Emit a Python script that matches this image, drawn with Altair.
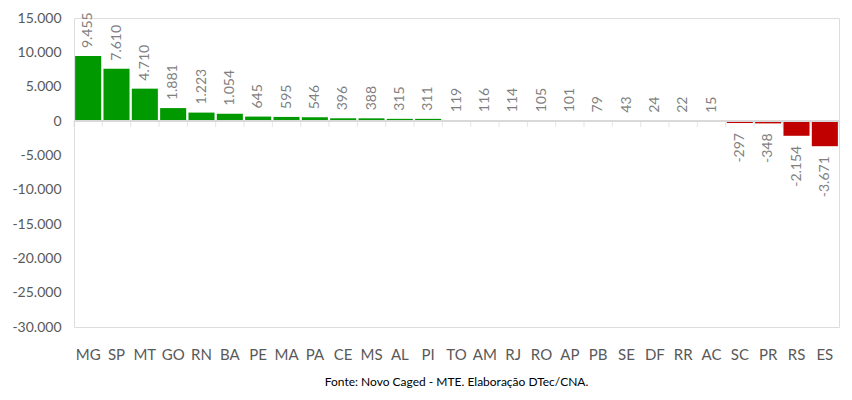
import altair as alt
import pandas as pd

states = ["MG", "SP", "MT", "GO", "RN", "BA", "PE", "MA", "PA", "CE", "MS", "AL", "PI",
          "TO", "AM", "RJ", "RO", "AP", "PB", "SE", "DF", "RR", "AC", "SC", "PR", "RS", "ES"]
values = [9455, 7610, 4710, 1881, 1223, 1054, 645, 595, 546, 396, 388, 315, 311,
          119, 116, 114, 105, 101, 79, 43, 24, 22, 15, -297, -348, -2154, -3671]
y_ticks = [-30000, -25000, -20000, -15000, -10000, -5000, 0, 5000, 10000, 15000]
source_text = "Fonte: Novo Caged - MTE. Elaboração DTec/CNA."

df = pd.DataFrame({
    "state": states,
    "value": values,
    "label": [f"{v:,}".replace(",", ".") for v in values],
})

FONT = "Lato"
xscale = alt.Scale(domain=states, paddingInner=0, paddingOuter=0)
yscale = alt.Scale(domain=[-30000, 15000], nice=False, zero=False)

x_axis = alt.Axis(title=None, labelAngle=0, domain=False, ticks=False,
                  labelPadding=20, labelFont=FONT, labelFontSize=15,
                  labelColor="#595959")
y_axis = alt.Axis(title=None, values=y_ticks, grid=False, domain=False, ticks=False,
                  labelPadding=13, labelFont=FONT, labelFontSize=14,
                  labelColor="#595959", labelOverlap=False, labelBound=False,
                  labelExpr="replace(replace(format(datum.value, ',d'), ',', '.'), '\u2212', '-')")

x_enc = alt.X("state:N", sort=states, scale=xscale, axis=x_axis)
y_enc = alt.Y("value:Q", scale=yscale, axis=y_axis)
y_zero = alt.YDatum(0, scale=yscale, axis=y_axis)

base = alt.Chart(df)

bars = base.mark_bar(width=alt.RelativeBandSize(0.92)).encode(
    x=x_enc,
    y=y_enc,
    color=alt.condition(alt.datum.value > 0, alt.value("#009900"), alt.value("#C00000")),
)

zero = base.mark_rule(color="#D9D9D9", strokeWidth=1.5).encode(y=y_zero)

ticks_left = base.mark_tick(orient="vertical", size=6, thickness=1, color="#D9D9D9", yOffset=3).encode(
    x=alt.X("state:N", sort=states, scale=xscale, axis=x_axis, bandPosition=0),
    y=y_zero,
)
ticks_right = base.transform_filter(alt.datum.state == states[-1]).mark_tick(
    orient="vertical", size=6, thickness=1, color="#D9D9D9", yOffset=3).encode(
    x=alt.X("state:N", sort=states, scale=xscale, axis=x_axis, bandPosition=1),
    y=y_zero,
)

pos_labels = base.transform_filter(alt.datum.value > 0).mark_text(
    angle=270, align="left", baseline="middle", dx=8, font=FONT, fontSize=14, color="#7F7F7F"
).encode(x=x_enc, y=y_enc, text="label:N")

neg_labels = base.transform_filter(alt.datum.value < 0).mark_text(
    angle=270, align="right", baseline="middle", dx=-10, font=FONT, fontSize=14, color="#7F7F7F"
).encode(x=x_enc, y=y_enc, text="label:N")

chart = alt.layer(bars, zero, ticks_left, ticks_right, pos_labels, neg_labels).properties(
    width=765,
    height=309,
    autosize=alt.AutoSizeParams(type="none"),
    padding={"left": 66, "top": 10, "right": 5, "bottom": 65},
    title=alt.TitleParams(text=source_text, orient="bottom", anchor="middle",
                          font=FONT, fontSize=12, fontWeight="normal", color="#000000",
                          offset=15),
).configure_view(stroke=None).configure(background="white")

chart.save("out.html", embed_options={"renderer": "svg", "actions": False})
